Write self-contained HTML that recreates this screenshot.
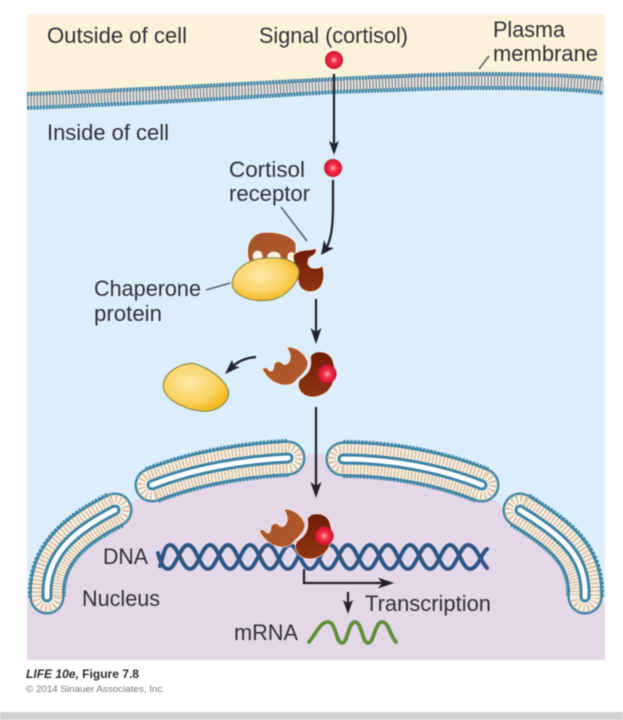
<!DOCTYPE html>
<html>
<head>
<meta charset="utf-8">
<style>
html,body{margin:0;padding:0;background:#fff;width:623px;height:720px;overflow:hidden}
svg{display:block;filter:blur(.45px)}
text{font-family:"Liberation Sans",sans-serif;font-size:22px;fill:#333038}
</style>
</head>
<body>
<svg width="623" height="720" viewBox="0 0 623 720" xmlns="http://www.w3.org/2000/svg">
<defs>
<radialGradient id="red" cx="50%" cy="50%" r="50%"><stop offset="0" stop-color="#ffb0b0"/><stop offset=".4" stop-color="#f5304c"/><stop offset="1" stop-color="#cf1230"/></radialGradient>
<radialGradient id="yel" cx="42%" cy="40%" r="62%"><stop offset="0" stop-color="#fde9a8"/><stop offset=".6" stop-color="#fbd468"/><stop offset="1" stop-color="#f4b81e"/></radialGradient>
<linearGradient id="br" x1="0" y1="0" x2="1" y2="1"><stop offset="0" stop-color="#a5522a"/><stop offset="1" stop-color="#b25a2c"/></linearGradient>
<linearGradient id="dk" x1="0" y1="0" x2="0" y2="1"><stop offset="0" stop-color="#6f1d06"/><stop offset="1" stop-color="#8f3513"/></linearGradient>
<path id="p1" d="M115,510C75,530 45,555 47,597"/>
<path id="p2" d="M152,485C195,468 245,460 288,458"/>
<path id="p3" d="M343,459C390,459 440,468 482,485"/>
<path id="p4" d="M520,510C560,535 587,555 585,597"/>
<g id="recep">
<path d="M337,507C345,500 352,503 358,512C368,518 372,505 372,495C376,482 392,482 398,492C412,500 425,480 420,462C418,455 414,448 411,442C440,438 468,465 474,488C474,512 452,525 432,548C405,565 360,552 337,507Z" fill="url(#br)" stroke="#fff1e0" stroke-width="2"/>
<path d="M481,470C493,450 530,450 546,475C556,500 557,530 546,555C530,587 495,597 468,587C447,577 439,555 450,538C473,523 488,505 481,470Z" fill="url(#dk)" stroke="#fff1e0" stroke-width="2"/>
<circle cx="532" cy="522" r="28" fill="url(#red)"/>
</g>
</defs>

<!-- background panels -->
<rect x="27" y="85" width="578" height="575" fill="#dcedfb"/>
<path d="M27,14H605V79C560,72 500,73 440,75C340,78 130,90 27,94Z" fill="#fcf2da"/>
<path d="M27,600C55,530 190,455 315,454C440,455 575,530 605,600V660H27Z" fill="#e3d7e8"/>

<!-- plasma membrane -->
<path d="M27,94C130,90 240,84 333,79C400,76 440,74 480,74C530,74 575,75 603,79L603,93C575,89 530,88 480,88C440,88 400,90 333,92C240,98 130,104 27,108Z" fill="#f4f0ea"/>
<path d="M27,101C130,97 240,91 333,85.500C400,82 440,81 480,81C530,81 575,82 603,86" fill="none" stroke="#8c949c" stroke-width="12" stroke-dasharray="1.600 1.600"/>
<g fill="none" stroke="#3d85a5">
<path d="M27,94C130,90 240,84 333,79C400,76 440,74 480,74C530,74 575,75 603,79" stroke-width="3.800" stroke-dasharray="2.400 .7"/>
<path d="M27,108C130,104 240,98 333,92C400,90 440,88 480,88C530,88 575,89 603,93" stroke-width="3.800" stroke-dasharray="2.400 .7"/>
</g>

<!-- nuclear envelope pockets -->
<g fill="none">
<g id="v1">
<use href="#p1" stroke="#3d85a5" stroke-width="35" stroke-linecap="round"/>
<use href="#p1" stroke="#3d85a5" stroke-width="38" stroke-dasharray="2.500 1"/>
<use href="#p1" stroke="#fbf6ee" stroke-width="30" stroke-linecap="round"/>
<circle cx="115" cy="510" r="11" stroke="#d9c3a6" stroke-width="9" stroke-dasharray="2 2.300"/>
<circle cx="47" cy="597" r="11" stroke="#d9c3a6" stroke-width="9" stroke-dasharray="2 2.300"/>
<use href="#p1" stroke="#fbf6ee" stroke-width="30"/>
<use href="#p1" stroke="#d9c3a6" stroke-width="30" stroke-dasharray="1.800 1.700"/>
<use href="#p1" stroke="#3d85a5" stroke-width="11" stroke-linecap="round"/>
<use href="#p1" stroke="#fff" stroke-width="5" stroke-linecap="round"/>
</g>
<g id="v2">
<use href="#p2" stroke="#3d85a5" stroke-width="35" stroke-linecap="round"/>
<use href="#p2" stroke="#3d85a5" stroke-width="38" stroke-dasharray="2.500 1"/>
<use href="#p2" stroke="#fbf6ee" stroke-width="30" stroke-linecap="round"/>
<circle cx="152" cy="485" r="11" stroke="#d9c3a6" stroke-width="9" stroke-dasharray="2 2.300"/>
<circle cx="288" cy="458" r="11" stroke="#d9c3a6" stroke-width="9" stroke-dasharray="2 2.300"/>
<use href="#p2" stroke="#fbf6ee" stroke-width="30"/>
<use href="#p2" stroke="#d9c3a6" stroke-width="30" stroke-dasharray="1.800 1.700"/>
<use href="#p2" stroke="#3d85a5" stroke-width="11" stroke-linecap="round"/>
<use href="#p2" stroke="#fff" stroke-width="5" stroke-linecap="round"/>
</g>
<g id="v3">
<use href="#p3" stroke="#3d85a5" stroke-width="35" stroke-linecap="round"/>
<use href="#p3" stroke="#3d85a5" stroke-width="38" stroke-dasharray="2.500 1"/>
<use href="#p3" stroke="#fbf6ee" stroke-width="30" stroke-linecap="round"/>
<circle cx="343" cy="459" r="11" stroke="#d9c3a6" stroke-width="9" stroke-dasharray="2 2.300"/>
<circle cx="482" cy="485" r="11" stroke="#d9c3a6" stroke-width="9" stroke-dasharray="2 2.300"/>
<use href="#p3" stroke="#fbf6ee" stroke-width="30"/>
<use href="#p3" stroke="#d9c3a6" stroke-width="30" stroke-dasharray="1.800 1.700"/>
<use href="#p3" stroke="#3d85a5" stroke-width="11" stroke-linecap="round"/>
<use href="#p3" stroke="#fff" stroke-width="5" stroke-linecap="round"/>
</g>
<g id="v4">
<use href="#p4" stroke="#3d85a5" stroke-width="35" stroke-linecap="round"/>
<use href="#p4" stroke="#3d85a5" stroke-width="38" stroke-dasharray="2.500 1"/>
<use href="#p4" stroke="#fbf6ee" stroke-width="30" stroke-linecap="round"/>
<circle cx="520" cy="510" r="11" stroke="#d9c3a6" stroke-width="9" stroke-dasharray="2 2.300"/>
<circle cx="585" cy="597" r="11" stroke="#d9c3a6" stroke-width="9" stroke-dasharray="2 2.300"/>
<use href="#p4" stroke="#fbf6ee" stroke-width="30"/>
<use href="#p4" stroke="#d9c3a6" stroke-width="30" stroke-dasharray="1.800 1.700"/>
<use href="#p4" stroke="#3d85a5" stroke-width="11" stroke-linecap="round"/>
<use href="#p4" stroke="#fff" stroke-width="5" stroke-linecap="round"/>
</g>
</g>

<!-- DNA -->
<g fill="none" stroke="#2f5585" stroke-width="4" stroke-linecap="round">
<path d="M160,566C163,558 164,545 170,545C178,545 182,569 190,569S202,545 210,545S222,569 230,569S242,545 250,545S262,569 270,569S282,545 290,545S302,569 310,569S322,545 330,545S342,569 350,569S362,545 370,545S382,569 390,569S402,545 410,545S422,569 430,569S442,545 450,545S462,569 470,569S482,552 487,549"/>
<path d="M158,553C160,560 163,569 168,569C176,569 180,545 188,545S200,569 208,569S220,545 228,545S240,569 248,569S260,545 268,545S280,569 288,569S300,545 308,545S320,569 328,569S340,545 348,545S360,569 368,569S380,545 388,545S400,569 408,569S420,545 428,545S440,569 448,569S460,545 468,545S480,560 487,568"/>
</g>

<!-- receptor complex with chaperone -->
<g transform="translate(150,200) scale(.3333)">
<path d="M297,182C285,140 300,105 335,98C375,93 425,105 437,130C440,145 436,175 430,190L300,190Z" fill="url(#br)" stroke="#fff1e0" stroke-width="2"/>
<ellipse cx="323" cy="168" rx="15" ry="16" fill="#f7f1e6"/>
<ellipse cx="372" cy="170" rx="20" ry="15" fill="#f7f1e6"/>
<ellipse cx="424" cy="172" rx="12" ry="16" fill="#f7f1e6"/>
<path d="M430,165C450,145 480,155 497,145C502,155 495,162 488,167C470,172 470,195 482,202C492,208 508,205 518,198C524,225 524,262 495,273C470,280 450,270 445,245C440,220 430,190 430,165Z" fill="url(#dk)" stroke="#fff1e0" stroke-width="2"/>
<path d="M247,245C252,210 290,182 330,176C375,170 432,172 446,208C452,240 420,278 380,295C345,307 295,303 268,284C252,273 245,260 247,245Z" fill="url(#yel)" stroke="#8a8a50" stroke-width="3.500"/>
<!-- free chaperone -->
<path d="M40,555C42,520 85,492 125,490C165,495 232,540 236,578C236,610 200,633 165,634C110,632 38,600 40,555Z" fill="url(#yel)" stroke="#8a8a50" stroke-width="3.500"/>
<use href="#recep"/>
<g transform="translate(-9,486)"><use href="#recep"/></g>
</g>

<!-- cortisol -->
<circle cx="334" cy="60" r="9" fill="url(#red)"/>
<circle cx="333" cy="168" r="9" fill="url(#red)"/>

<!-- arrows -->
<g fill="none" stroke="#23202a" stroke-width="2.200">
<path d="M334,74V146"/>
<path d="M333,180V205C333,228 331,242 324,252"/>
<path d="M316,299V334"/>
<path d="M256,357C244,358 235,363 229,370"/>
<path d="M316,407V488"/>
<path d="M304,569V583H384"/>
<path d="M348,592V606"/>
</g>
<g fill="#23202a">
<path d="M334,155L329,141L334,144L339,141Z"/>
<path d="M321,255L324,240L327,247L334,248Z"/>
<path d="M316,344L310.500,328L316,332L321.500,328Z"/>
<path d="M225,374L232,360L234,366L240,367Z"/>
<path d="M316,498L310.500,482L316,486L321.500,482Z"/>
<path d="M394,583L378,577.500L382,583L378,588.500Z"/>
<path d="M348,614L343,600L348,603L353,600Z"/>
</g>

<!-- leader lines -->
<g fill="none" stroke="#55606b" stroke-width="1.500">
<path d="M479,69L489,56"/>
<path d="M281,207L307,241"/>
<path d="M206,290L230,283"/>
</g>

<!-- mRNA -->
<path d="M309,642C316,634 320,622 328,622C336,622 336,643 342,643C348,643 348,622 355,622C362,622 362,643 368,643C374,643 375,622 382,622C389,622 390,636 396,642" fill="none" stroke="#5f8f3a" stroke-width="3.800" stroke-linecap="round"/>

<!-- labels -->
<text x="47" y="43" textLength="140" lengthAdjust="spacingAndGlyphs">Outside of cell</text>
<text x="259" y="43" textLength="149" lengthAdjust="spacingAndGlyphs">Signal (cortisol)</text>
<text x="493" y="37" textLength="72" lengthAdjust="spacingAndGlyphs">Plasma</text>
<text x="493" y="61" textLength="105" lengthAdjust="spacingAndGlyphs">membrane</text>
<text x="47" y="140" textLength="122" lengthAdjust="spacingAndGlyphs">Inside of cell</text>
<text x="229" y="177" textLength="76" lengthAdjust="spacingAndGlyphs">Cortisol</text>
<text x="229" y="201" textLength="81" lengthAdjust="spacingAndGlyphs">receptor</text>
<text x="94" y="296" textLength="107" lengthAdjust="spacingAndGlyphs">Chaperone</text>
<text x="94" y="321" textLength="68" lengthAdjust="spacingAndGlyphs">protein</text>
<text x="103" y="564" textLength="45" lengthAdjust="spacingAndGlyphs">DNA</text>
<text x="82" y="606" textLength="78" lengthAdjust="spacingAndGlyphs">Nucleus</text>
<text x="365" y="611" textLength="126" lengthAdjust="spacingAndGlyphs">Transcription</text>
<text x="234" y="640" textLength="64" lengthAdjust="spacingAndGlyphs">mRNA</text>

<!-- footer -->
<text x="26" y="678" style="font-size:11.500px;font-weight:bold;fill:#2c2a30" textLength="113" lengthAdjust="spacingAndGlyphs"><tspan font-style="italic">LIFE 10e,</tspan> Figure 7.8</text>
<text x="26" y="692" style="font-size:9.500px;fill:#77767c" textLength="139" lengthAdjust="spacingAndGlyphs">© 2014 Sinauer Associates, Inc.</text>

<rect x="0" y="712" width="623" height="8" fill="#d1d0d0"/>
</svg>
</body>
</html>
